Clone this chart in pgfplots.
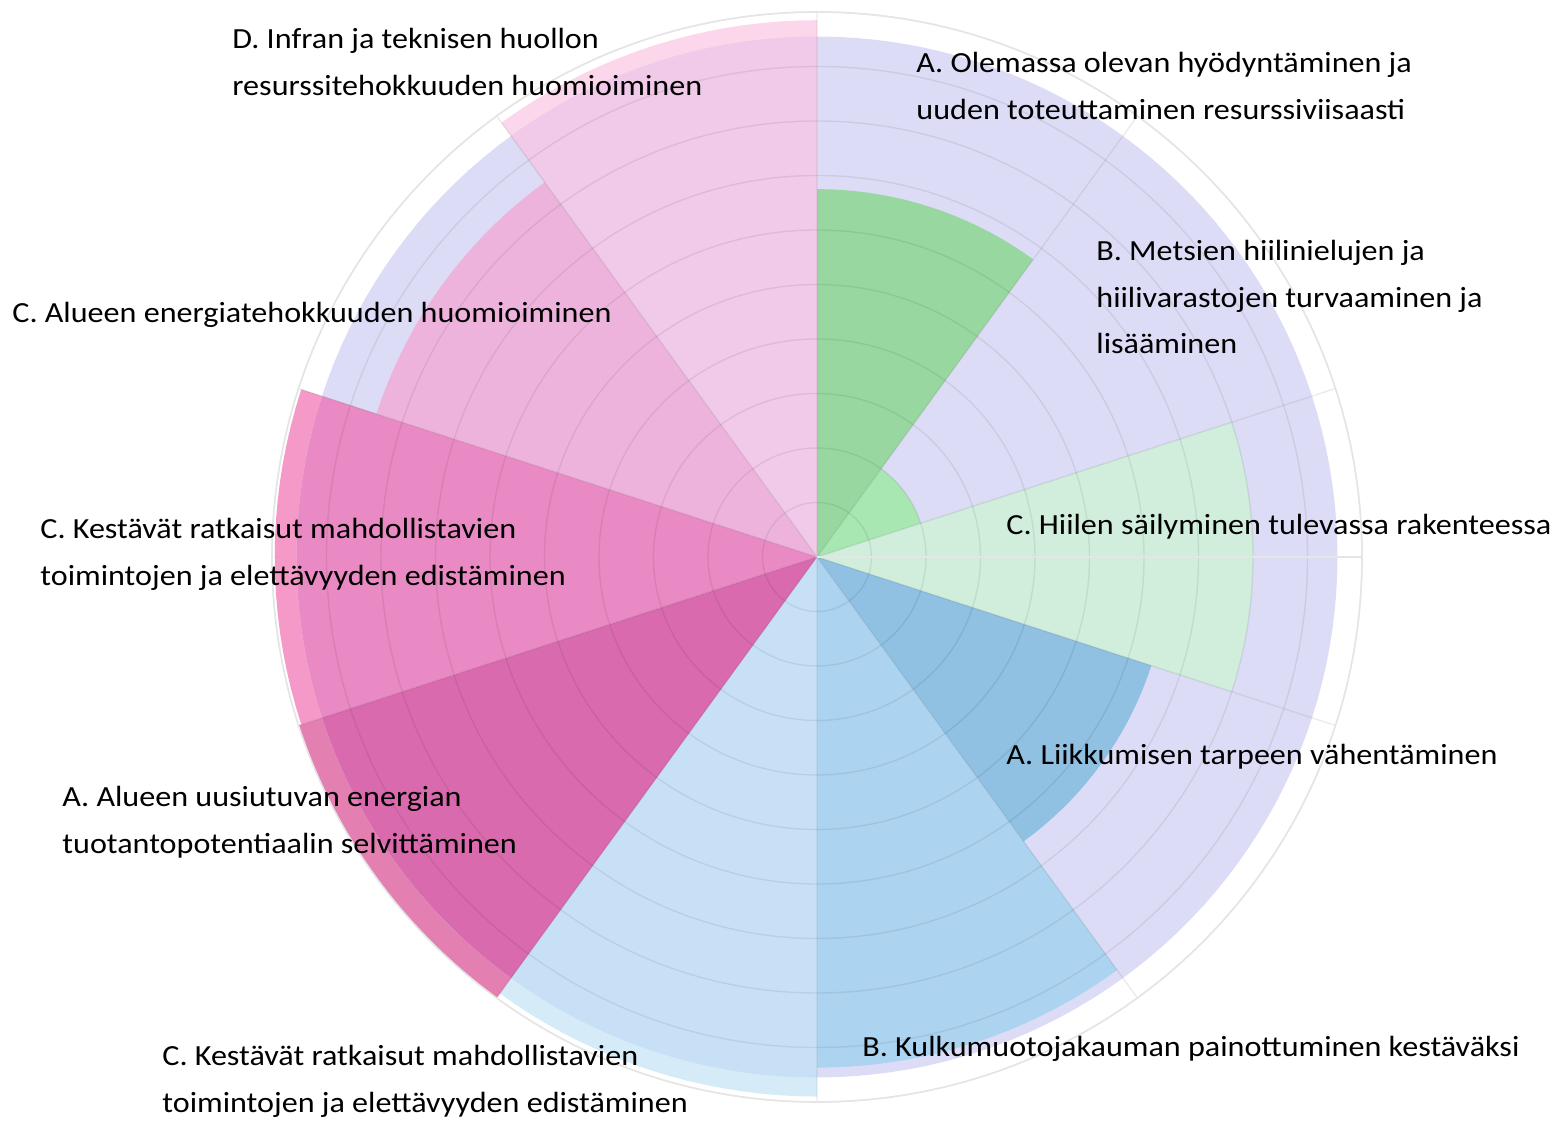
\documentclass[border=0pt]{standalone}
\usepackage{pgfplots}
\pgfplotsset{compat=1.18}
\usepgfplotslibrary{polar}
\usepackage{fontspec}
\setmainfont{Carlito}[FakeStretch=1.10]

\definecolor{lav}{RGB}{220,220,246}
\definecolor{gA}{RGB}{152,216,160}
\definecolor{gB}{RGB}{168,230,178}
\definecolor{gC}{RGB}{208,238,219}
\definecolor{bA}{RGB}{144,192,226}
\definecolor{bB}{RGB}{172,212,240}
\definecolor{bC}{RGB}{200,224,246}
\definecolor{bCw}{RGB}{213,236,248}
\definecolor{pA}{RGB}{217,106,173}
\definecolor{pAw}{RGB}{228,127,178}
\definecolor{pC}{RGB}{234,138,196}
\definecolor{pCw}{RGB}{245,154,200}
\definecolor{pE}{RGB}{238,179,220}
\definecolor{pD}{RGB}{240,202,232}
\definecolor{pDw}{RGB}{252,214,234}

% sector: #1 start angle, #2 end angle, #3 value (radius), #4 fill colour
\newcommand\sector[4]{%
  \gdef\pts{(#1,0)}%
  \foreach \i in {0,...,18}{%
    \pgfmathsetmacro\ang{#1+(#2-#1)*\i/18}%
    \xdef\pts{\pts (\ang,#3)}%
  }%
  \xdef\pts{\pts (#2,0)}%
  \edef\doit{\noexpand\addplot[draw=none,fill=#4] coordinates {\pts};}%
  \doit
}

\begin{document}
\begin{tikzpicture}
\path[use as bounding box] (0,0) rectangle (778pt,561pt);
\begin{polaraxis}[
  at={(408.5pt,282.5pt)}, anchor=center,
  width=545pt, height=545pt, scale only axis,
  ymin=0, ymax=10,
  xtick={18,54,90,126,162,198,234,270,306,342},
  ytick={1,2,3,4,5,6,7,8,9,10},
  xticklabels={}, yticklabels={},
  major tick length=0pt,
  grid=major,
  major grid style={black, opacity=0.075, line width=0.7pt},
  axis line style={black!10, line width=0.8pt},
  axis on top,
]
% outer parts of the series beyond the lavender disk
\sector{-126}{-90}{9.9}{bCw}
\sector{-162}{-126}{10}{pAw}
\sector{162}{198}{9.95}{pCw}
\sector{90}{126}{9.85}{pDw}
% lavender series
\sector{54}{90}{9.55}{lav}
\sector{18}{54}{9.55}{lav}
\sector{-18}{18}{9.55}{lav}
\sector{-54}{-18}{9.55}{lav}
\sector{-90}{-54}{9.55}{lav}
\sector{-126}{-90}{9.55}{lav}
\sector{-162}{-126}{9.55}{lav}
\sector{162}{198}{9.55}{lav}
\sector{126}{162}{9.55}{lav}
\sector{90}{126}{9.55}{lav}
% series over the lavender disk
\sector{54}{90}{6.75}{gA}
\sector{18}{54}{2.0}{gB}
\sector{-18}{18}{8.0}{gC}
\sector{-54}{-18}{6.45}{bA}
\sector{-90}{-54}{9.37}{bB}
\sector{-126}{-90}{9.55}{bC}
\sector{-162}{-126}{9.55}{pA}
\sector{162}{198}{9.55}{pC}
\sector{126}{162}{8.5}{pE}
\sector{90}{126}{9.55}{pD}
\end{polaraxis}
\begin{scope}[every node/.style={anchor=base west, inner sep=0pt, font=\fontsize{14.6}{18}\selectfont}]
\node at (116pt,536.5pt) {D. Infran ja teknisen huollon};
\node at (116pt,513pt) {resurssitehokkuuden huomioiminen};
\node at (458pt,524.5pt) {A. Olemassa olevan hyödyntäminen ja};
\node at (458pt,501pt) {uuden toteuttaminen resurssiviisaasti};
\node at (548pt,430.5pt) {B. Metsien hiilinielujen ja};
\node at (548pt,407pt) {hiilivarastojen turvaaminen ja};
\node at (548pt,384pt) {lisääminen};
\node at (503pt,293.5pt) {C. Hiilen säilyminen tulevassa rakenteessa};
\node at (503pt,178.5pt) {A. Liikkumisen tarpeen vähentäminen};
\node at (431pt,32.5pt) {B. Kulkumuotojakauman painottuminen kestäväksi};
\node at (81pt,28pt) {C. Kestävät ratkaisut mahdollistavien};
\node at (81pt,4.5pt) {toimintojen ja elettävyyden edistäminen};
\node at (31pt,157.5pt) {A. Alueen uusiutuvan energian};
\node at (31pt,134pt) {tuotantopotentiaalin selvittäminen};
\node at (20pt,291.5pt) {C. Kestävät ratkaisut mahdollistavien};
\node at (20pt,268pt) {toimintojen ja elettävyyden edistäminen};
\node at (6pt,399.5pt) {C. Alueen energiatehokkuuden huomioiminen};
\end{scope}
\end{tikzpicture}
\end{document}
